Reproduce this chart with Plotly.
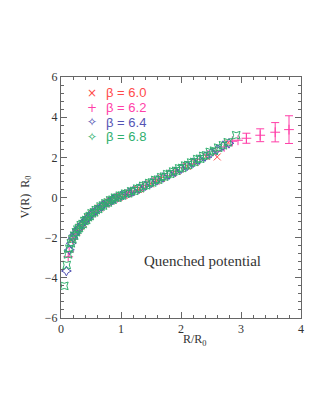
import plotly.graph_objects as go

# beta = 6.0
r60 = [0.186, 0.263, 0.322, 0.372, 0.416, 0.456, 0.526, 0.558, 0.644, 0.744, 0.789, 0.832, 0.93, 0.966,
       1.052, 1.116, 1.248, 1.289, 1.315, 1.488, 1.578, 1.611, 1.674, 1.86, 1.933, 2.104, 2.232, 2.418,
       2.604, 2.79]
v60 = [-2.10, -1.70, -1.45, -1.30, -1.14, -1.00, -0.80, -0.72, -0.52, -0.32, -0.24, -0.17, -0.03, 0.02,
       0.12, 0.20, 0.35, 0.40, 0.43, 0.68, 0.82, 0.86, 0.95, 1.20, 1.31, 1.55, 1.75, 2.05,
       2.02, 2.72]

# beta = 6.2
r62 = [0.12, 0.136, 0.192, 0.236, 0.272, 0.304, 0.333, 0.385, 0.408, 0.471, 0.544, 0.577, 0.608, 0.68,
       0.707, 0.769, 0.816, 0.912, 0.942, 0.962, 1.088, 1.154, 1.178, 1.224, 1.36, 1.413, 1.539, 1.632,
       1.768, 1.904, 2.04, 2.176, 2.312, 2.448, 2.584, 2.72, 2.856, 2.95]
v62 = [-2.95, -2.70, -2.08, -1.82, -1.65, -1.52, -1.41, -1.22, -1.15, -0.95, -0.76, -0.67, -0.60, -0.44,
       -0.39, -0.26, -0.18, -0.05, -0.01, 0.03, 0.17, 0.25, 0.28, 0.33, 0.51, 0.60, 0.77, 0.90,
       1.10, 1.28, 1.48, 1.68, 1.90, 2.12, 2.30, 2.52, 2.80, 2.85]
r62_err = [3.09, 3.32, 3.57, 3.80]
v62_err = [2.95, 3.10, 3.25, 3.38]
e62_err = [0.25, 0.32, 0.48, 0.69]

# beta = 6.4
r64 = [0.09, 0.14, 0.17, 0.20, 0.224, 0.245, 0.283, 0.30, 0.346, 0.40, 0.424, 0.447, 0.50, 0.52, 0.566,
       0.60, 0.671, 0.693, 0.707, 0.80, 0.849, 0.866, 0.90, 1.00, 1.04, 1.131, 1.20, 1.30, 1.40, 1.50,
       1.60, 1.70, 1.80, 1.90, 2.00, 2.10, 2.20, 2.30, 2.40, 2.50, 2.60, 2.70, 2.80]
v64 = [-3.66, -2.60, -2.28, -2.02, -1.86, -1.76, -1.58, -1.52, -1.33, -1.16, -1.08, -1.02, -0.84, -0.79,
       -0.69, -0.62, -0.45, -0.41, -0.37, -0.21, -0.13, -0.10, -0.05, 0.08, 0.12, 0.23, 0.31, 0.44, 0.58,
       0.72, 0.86, 1.00, 1.14, 1.28, 1.43, 1.57, 1.73, 1.88, 2.04, 2.21, 2.38, 2.58, 2.70]

# beta = 6.8
r68 = [0.055, 0.095, 0.117, 0.14, 0.165, 0.19, 0.22, 0.25, 0.275, 0.30, 0.33, 0.36, 0.39, 0.42, 0.45,
       0.48, 0.51, 0.55, 0.58, 0.62, 0.66, 0.70, 0.74, 0.78, 0.82, 0.86, 0.90, 0.94, 0.98, 1.02, 1.07,
       1.12, 1.17, 1.22, 1.27, 1.32, 1.37, 1.42, 1.47, 1.52, 1.57, 1.62, 1.67, 1.72, 1.77, 1.82, 1.87,
       1.92, 1.97, 2.02, 2.07, 2.12, 2.17, 2.22, 2.27, 2.32, 2.37, 2.42, 2.48, 2.55, 2.62, 2.70, 2.78,
       2.92]
v68 = [-4.40, -3.36, -2.83, -2.55, -2.28, -2.08, -1.90, -1.73, -1.60, -1.52, -1.38, -1.32, -1.17, -1.12,
       -0.98, -0.92, -0.79, -0.74, -0.63, -0.57, -0.45, -0.40, -0.29, -0.25, -0.14, -0.11, -0.01, -0.01,
       0.09, 0.10, 0.19, 0.21, 0.31, 0.33, 0.44, 0.47, 0.58, 0.61, 0.72, 0.75, 0.87, 0.89, 1.01, 1.04,
       1.16, 1.18, 1.29, 1.33, 1.45, 1.47, 1.59, 1.62, 1.74, 1.77, 1.91, 1.93, 2.07, 2.10, 2.27, 2.33,
       2.48, 2.60, 2.75, 3.10]

labels = ["β = 6.0", "β = 6.2", "β = 6.4", "β = 6.8"]
key_glyphs = ["×", "+", "✧", "✧"]
colors = ["#ff4a4a", "#ff3fa8", "#5454b4", "#2fb06e"]
symbols = ["x-thin-open", "cross-thin-open", "star-diamond-open", "star-square-open"]

fig = go.Figure()

series = [(r60, v60), (r62, v62), (r64, v64), (r68, v68)]
for i, (rx, vy) in enumerate(series):
    fig.add_trace(go.Scatter(x=rx, y=vy, mode="markers", name=labels[i], showlegend=False,
                             marker=dict(symbol=symbols[i], size=7, color=colors[i],
                                         line=dict(width=1, color=colors[i]))))
    if i == 1:
        fig.add_trace(go.Scatter(x=r62_err, y=v62_err, mode="markers", showlegend=False,
                                 error_y=dict(type="data", array=e62_err, color=colors[1], thickness=1, width=4),
                                 marker=dict(symbol=symbols[1], size=7, color=colors[1],
                                             line=dict(width=1, color=colors[1]))))

# legend drawn as text rows
row_y = [0.935, 0.873, 0.812, 0.752]
for i in range(4):
    fig.add_annotation(x=0.129, y=row_y[i], xref="paper", yref="paper", text=key_glyphs[i],
                       showarrow=False, xanchor="center", yanchor="middle",
                       font=dict(family="DejaVu Sans", size=12, color=colors[i]))
    fig.add_annotation(x=0.18, y=row_y[i], xref="paper", yref="paper", text=labels[i],
                       showarrow=False, xanchor="left", yanchor="middle",
                       font=dict(family="Liberation Sans", size=13, color=colors[i]))

axis_common = dict(showline=True, linecolor="#666", linewidth=1, mirror="ticks", ticks="inside",
                   ticklen=6, tickcolor="#666", showgrid=False, zeroline=False, automargin=False,
                   tickfont=dict(family="Liberation Serif", size=12, color="#333"))

fig.update_xaxes(range=[0, 4], dtick=1, tick0=0,
                 minor=dict(dtick=0.2, ticks="inside", ticklen=3, tickcolor="#666"),
                 **axis_common)
fig.update_yaxes(range=[-6, 6], dtick=2, tick0=0,
                 minor=dict(dtick=0.4, ticks="inside", ticklen=3, tickcolor="#666"),
                 **axis_common)

# axis titles
fig.add_annotation(x=0.56, y=-0.092, xref="paper", yref="paper", text="R/R<sub>0</sub>",
                   showarrow=False, xanchor="center", yanchor="middle",
                   font=dict(family="Liberation Serif", size=12, color="#333"))
fig.add_annotation(x=-0.15, y=0.5, xref="paper", yref="paper", text="V(R)  R<sub>0</sub>",
                   showarrow=False, textangle=-90, xanchor="center", yanchor="middle",
                   font=dict(family="Liberation Serif", size=12, color="#333"))

fig.add_annotation(x=0.59, y=0.235, xref="paper", yref="paper", text="Quenched potential", showarrow=False,
                   xanchor="center", yanchor="middle",
                   font=dict(family="Liberation Serif", size=15, color="#333"))

# page body has an 8px margin, so the figure is offset by 8px; compensate here
fig.update_layout(
    width=306, height=399,
    margin=dict(l=53, r=13, t=69, b=89),
    paper_bgcolor="white", plot_bgcolor="white",
    showlegend=False,
)

fig.write_html("out.html")
